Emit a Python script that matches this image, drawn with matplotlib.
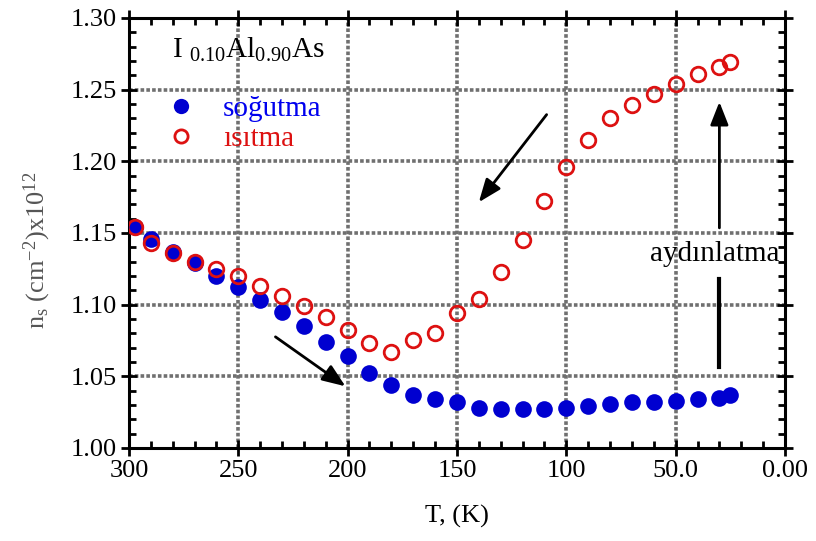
import matplotlib
matplotlib.use('Agg')
import matplotlib.pyplot as plt
from matplotlib.patches import Rectangle
from matplotlib.ticker import MultipleLocator, FixedFormatter, FixedLocator

#%% Data
T_cool = [297, 290, 280, 270, 260, 250, 240, 230, 220, 210, 200, 190, 180, 170,
          160, 150, 140, 130, 120, 110, 100, 90, 80, 70, 60, 50, 40, 30, 25]
ns_cool = [1.154, 1.146, 1.137, 1.129, 1.120, 1.112, 1.103, 1.095, 1.085, 1.074,
           1.064, 1.052, 1.044, 1.037, 1.034, 1.032, 1.028, 1.027, 1.027, 1.027,
           1.028, 1.029, 1.031, 1.032, 1.032, 1.033, 1.034, 1.035, 1.037]

T_heat = [297, 290, 280, 270, 260, 250, 240, 230, 220, 210, 200, 190, 180, 170,
          160, 150, 140, 130, 120, 110, 100, 90, 80, 70, 60, 50, 40, 30, 25]
ns_heat = [1.154, 1.143, 1.136, 1.130, 1.125, 1.120, 1.113, 1.106, 1.099, 1.091,
           1.082, 1.073, 1.067, 1.075, 1.080, 1.094, 1.104, 1.123, 1.145, 1.172,
           1.196, 1.215, 1.230, 1.239, 1.247, 1.254, 1.261, 1.266, 1.269]

xticks = [300, 250, 200, 150, 100, 50, 0]
xticklabels = ['300', '250', '200', '150', '100', '50.0', '0.00']
yticks = [1.00, 1.05, 1.10, 1.15, 1.20, 1.25, 1.30]

#%% Style
plt.rcParams['font.family'] = ['Liberation Serif', 'DejaVu Serif']
plt.rcParams['mathtext.fontset'] = 'custom'
plt.rcParams['mathtext.rm'] = 'Liberation Serif'
plt.rcParams['mathtext.it'] = 'Liberation Serif'
blue = '#0000d0'
red = '#dd1111'

fig = plt.figure(figsize=(8.16, 5.41), dpi=100)
ax = fig.add_axes([0.158, 0.172, 0.804, 0.795])

# grid
for x in xticks[1:-1]:
    ax.axvline(x, color='#707070', lw=2.6, ls=(0, (1, 0.6)), zorder=0)
for y in yticks[1:-1]:
    ax.axhline(y, color='#707070', lw=2.6, ls=(0, (1, 0.6)), zorder=0)

# data
ax.plot(T_cool, ns_cool, 'o', ms=12, mfc=blue, mec=blue, mew=0, zorder=3)
ax.plot(T_heat, ns_heat, 'o', ms=10.5, mfc='none', mec=red, mew=2, zorder=4)

ax.set_xlim(300, 0)
ax.set_ylim(1.00, 1.30)
ax.xaxis.set_major_locator(FixedLocator(xticks))
ax.xaxis.set_major_formatter(FixedFormatter(xticklabels))
ax.xaxis.set_minor_locator(MultipleLocator(10))
ax.set_yticks(yticks)
ax.set_yticklabels(['%.2f' % v for v in yticks])
ax.yaxis.set_minor_locator(MultipleLocator(0.01))
ax.tick_params(which='both', direction='in', top=True, right=True, width=2)
ax.tick_params(which='major', length=7, labelsize=19, pad=3)
ax.tick_params(which='minor', length=5)
ax.tick_params(axis='x', which='major', direction='inout', length=12)
ax.tick_params(axis='y', which='major', direction='inout', length=12)
for s in ax.spines.values():
    s.set_linewidth(2.2)

ax.set_xlabel('T, (K)', fontsize=19, labelpad=16)
ax.set_ylabel(r'n$_s$ (cm$^{-2}$)x10$^{12}$', fontsize=19, color='#555555')
ax.yaxis.set_label_coords(-0.115, 0.46)

# composition label
ax.text(0.065, 0.925, r'I $_{0.10}$Al$_{0.90}$As', transform=ax.transAxes,
        fontsize=21, va='center', ha='left')

# legend-like labels
ax.plot([276], [1.2385], 'o', ms=11, color=blue, mew=0)
ax.plot([276], [1.2175], 'o', ms=9.5, mfc='none', mec=red, mew=2)
ax.text(257, 1.2365, 'soğutma', color='#0000ee', fontsize=21, va='center')
t = ax.text(257, 1.2155, 'ısıtma', color=red, fontsize=21, va='center')
clip = Rectangle((300, 1.2105), 300, 0.1, transform=ax.transData)
t.set_clip_path(clip)

# arrows
style = dict(arrowstyle='-|>,head_length=1.4,head_width=0.55', color='k', lw=2,
             shrinkA=0, shrinkB=0)
ax.annotate('', xy=(201, 1.043), xytext=(233, 1.0775), arrowprops=style)
ax.annotate('', xy=(140, 1.1714), xytext=(109, 1.2325), arrowprops=style)
ax.annotate('', xy=(30, 1.2414), xytext=(30, 1.1535), arrowprops=style)
ax.plot([30, 30], [1.0565, 1.1180], color='k', lw=3)
ax.text(32, 1.1355, 'aydınlatma', fontsize=21, ha='center', va='center')

fig.savefig('out.png', dpi=100)
